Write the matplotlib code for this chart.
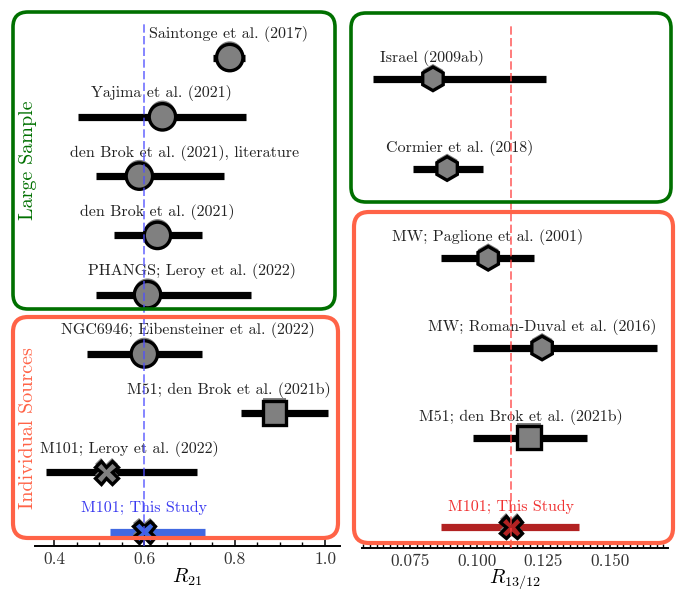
"""R21 and R13/12 literature comparison chart."""
import matplotlib
matplotlib.use("Agg")
import matplotlib.pyplot as plt
import matplotlib.ticker as mticker
import matplotlib.patheffects as pe
from matplotlib.patches import FancyBboxPatch

plt.rcParams["font.family"] = "serif"
plt.rcParams["font.serif"] = ["cmr10"]
plt.rcParams["mathtext.fontset"] = "cm"
plt.rcParams["axes.formatter.use_mathtext"] = True

# ── Data ─────────────────────────────────────────────────────────────────────
r21_labels = [
    "Saintonge et al. (2017)",
    "Yajima et al. (2021)",
    "den Brok et al. (2021), literature",
    "den Brok et al. (2021)",
    "PHANGS; Leroy et al. (2022)",
    "NGC6946; Eibensteiner et al. (2022)",
    "M51; den Brok et al. (2021b)",
    "M101; Leroy et al. (2022)",
    "M101; This Study",
]
r21_vals = [0.789, 0.640, 0.589, 0.629, 0.607, 0.600, 0.888, 0.516, 0.600]
r21_lo   = [0.036, 0.187, 0.097, 0.097, 0.115, 0.127, 0.075, 0.134, 0.077]
r21_hi   = [0.034, 0.186, 0.187, 0.098, 0.230, 0.127, 0.119, 0.200, 0.134]
r21_marker = ["o", "o", "o", "o", "o", "o", "s", "X", "X"]
r21_label_x = [0.787, 0.637, 0.688, 0.629, 0.705, 0.697, 0.787, 0.567, 0.600]
R21_THIS = 0.60

r13_labels = [
    "Israel (2009ab)",
    "Cormier et al. (2018)",
    "MW; Paglione et al. (2001)",
    "MW; Roman-Duval et al. (2016)",
    "M51; den Brok et al. (2021b)",
    "M101; This Study",
]
r13_vals = [0.0836, 0.0889, 0.1043, 0.1245, 0.1196, 0.1129]
r13_lo   = [0.0225, 0.0128, 0.0177, 0.0259, 0.0210, 0.0263]
r13_hi   = [0.0424, 0.0135, 0.0172, 0.0431, 0.0218, 0.0255]
r13_marker = ["h", "h", "h", "h", "s", "X"]
r13_label_x = [0.0833, 0.0937, 0.1039, 0.1245, 0.1167, 0.1128]
R13_THIS = 0.1129

# ── Style ────────────────────────────────────────────────────────────────────
GREEN = "#007000"
TOMATO = "#ff6347"
TXT = "#222222"
MSIZE = {"o": 19, "s": 17, "X": 16, "h": 17}
SHADOW = [pe.SimplePatchShadow(offset=(0, 2.2), shadow_rgbFace="0.5", alpha=1.0), pe.Normal()]


def _draw_rows(ax, labels, vals, lo, hi, markers, label_x, this_color, this_text, dy):
    n = len(vals)
    for i in range(n):
        y = n - 1 - i
        last = i == n - 1
        bar_c = this_color if last else "black"
        face = this_color if last else "0.5"
        ax.errorbar(vals[i], y, xerr=[[lo[i]], [hi[i]]], fmt="none",
                    ecolor=bar_c, elinewidth=5.2, capsize=0, zorder=2)
        ax.plot(vals[i], y, marker=markers[i], ms=MSIZE[markers[i]],
                mfc=face, mec="black", mew=2.4, ls="none", zorder=3,
                path_effects=SHADOW)
        ax.annotate(labels[i], (label_x[i], y), xytext=(0, dy),
                    textcoords="offset points", ha="center", va="center",
                    fontsize=11.5, color=this_text if last else TXT)


def _style_axis(ax):
    for s in ("left", "right", "top"):
        ax.spines[s].set_visible(False)
    ax.spines["bottom"].set_linewidth(1.4)
    ax.set_yticks([])
    ax.tick_params(axis="x", which="both", direction="in", top=False,
                   labelsize=12.5, colors="black", labelcolor="#333333", pad=4)
    ax.tick_params(axis="x", which="major", length=5, width=1.1)
    ax.tick_params(axis="x", which="minor", length=3, width=1.0)


fig = plt.figure(figsize=(6.81, 5.95), dpi=100)
ax1 = fig.add_axes([35 / 681, 49 / 595, 305 / 681, 524 / 595])
ax2 = fig.add_axes([362 / 681, 47 / 595, 306 / 681, 523 / 595])

# ── Left: R21 ────────────────────────────────────────────────────────────────
_draw_rows(ax1, r21_labels, r21_vals, r21_lo, r21_hi, r21_marker, r21_label_x,
           "#4169e1", "#3a3af0", 17)
ax1.axvline(R21_THIS, color="#4d4dff", lw=1.2, ls=(0, (5, 2)), alpha=0.8, zorder=5)
ax1.set_xlim(0.358, 1.033)
ax1.set_ylim(-0.24, 8.6)
ax1.xaxis.set_major_locator(mticker.MultipleLocator(0.2))
ax1.xaxis.set_minor_locator(mticker.MultipleLocator(0.05))
ax1.xaxis.set_major_formatter(mticker.FormatStrFormatter("%.1f"))
ax1.set_xlabel(r"$R_{21}$", fontsize=14.5, labelpad=0)
_style_axis(ax1)

# ── Right: R13/12 ────────────────────────────────────────────────────────────
_draw_rows(ax2, r13_labels, r13_vals, r13_lo, r13_hi, r13_marker, r13_label_x,
           "#b22222", "#f03030", 15)
ax2.axvline(R13_THIS, color="#ff4040", lw=1.2, ls=(0, (5, 2)), alpha=0.8, zorder=5)
ax2.set_xlim(0.057, 0.1717)
ax2.set_ylim(-0.23, 5.6)
ax2.xaxis.set_major_locator(mticker.MultipleLocator(0.025))
ax2.xaxis.set_minor_locator(mticker.MultipleLocator(0.0025))
ax2.xaxis.set_major_formatter(mticker.FormatStrFormatter("%.3f"))
ax2.set_xlabel(r"$R_{13/12}$", fontsize=14.5, labelpad=-1)
_style_axis(ax2)

# ── Group boxes (pixel coords, top-left origin) ──────────────────────────────
def _box(x0, y0, x1, y1, color, lw):
    fig.patches.append(FancyBboxPatch(
        (x0 / 100, (595 - y1) / 100), (x1 - x0) / 100, (y1 - y0) / 100,
        boxstyle="round,pad=0,rounding_size=0.15", transform=fig.dpi_scale_trans,
        fill=False, edgecolor=color, linewidth=lw, zorder=1, figure=fig))


_box(13, 12, 335, 309, GREEN, 2.6)
_box(13, 317, 338, 538, TOMATO, 3.0)
_box(351, 13, 671, 202, GREEN, 2.6)
_box(354, 212, 673, 543, TOMATO, 3.0)

fig.text(28 / 681, 1 - 160 / 595, "Large Sample", rotation=90, color=GREEN,
         fontsize=14.5, ha="center", va="center")
fig.text(28 / 681, 1 - 428 / 595, "Individual Sources", rotation=90, color=TOMATO,
         fontsize=14.5, ha="center", va="center")

fig.savefig("out.png", dpi=100)
